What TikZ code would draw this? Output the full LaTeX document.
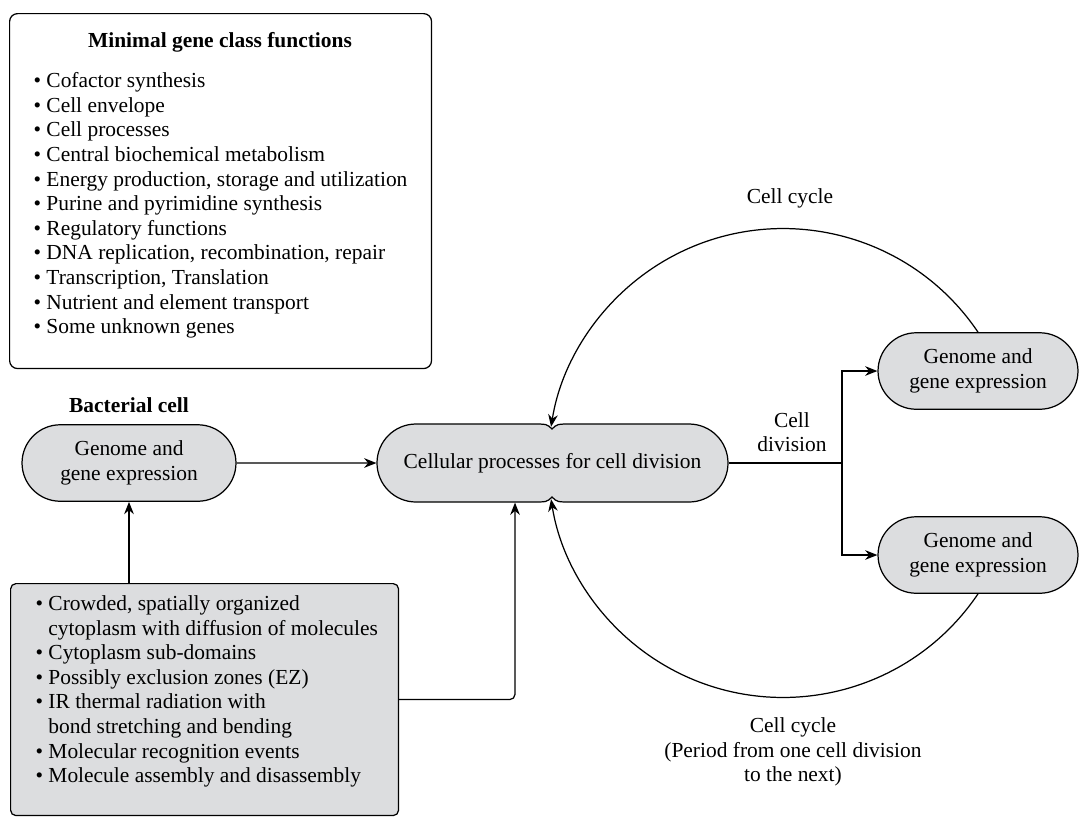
\documentclass[tikz,border=0pt]{standalone}
\usepackage{fontspec}
\setmainfont{Liberation Serif}
\usetikzlibrary{arrows.meta,shapes.misc}
\definecolor{cellgray}{RGB}{220,221,223}

\begin{document}
\begin{tikzpicture}[x=0.02cm, y=-0.02cm, line width=0.7pt,
  font=\fontsize{12.2}{14}\selectfont,
  pill/.style={draw, fill=cellgray, rounded rectangle, align=center,
    minimum height=1.53cm, inner sep=0pt},
  arr/.style={-{Stealth[length=7pt,width=5.5pt]}}]

\useasboundingbox (0,0) rectangle (1079,819);

\coordinate (c1) at (129,463);
\coordinate (c2) at (552.5,463);
\coordinate (c3) at (978,371);
\coordinate (c4) at (978,555);
\coordinate (split) at (842,463);

% gene classes
\node[draw, fill=white, rounded corners=4.5pt, minimum width=8.44cm, minimum height=7.1cm,
  anchor=north west] (genes) at (9,13) {};
\node (genetitle) at (220,42) {\bfseries Minimal gene class functions};
\node[anchor=north west, align=left, inner sep=0pt] (genelist) at (33,72) {%
\textbullet\ Cofactor synthesis\\
\textbullet\ Cell envelope\\
\textbullet\ Cell processes\\
\textbullet\ Central biochemical metabolism\\
\textbullet\ Energy production, storage and utilization\\
\textbullet\ Purine and pyrimidine synthesis\\
\textbullet\ Regulatory functions\\
\textbullet\ DNA replication, recombination, repair\\
\textbullet\ Transcription, Translation\\
\textbullet\ Nutrient and element transport\\
\textbullet\ Some unknown genes};

% cytoplasm box
\node[draw, fill=cellgray, rounded corners=3pt, minimum width=7.76cm, minimum height=4.64cm,
  anchor=north west] (props) at (10,583) {};
\node[anchor=north west, align=left, inner sep=0pt] (proplist) at (35,595) {%
\textbullet\ Crowded, spatially organized\\
\phantom{\textbullet\ }cytoplasm with diffusion of molecules\\
\textbullet\ Cytoplasm sub-domains\\
\textbullet\ Possibly exclusion zones (EZ)\\
\textbullet\ IR thermal radiation with\\
\phantom{\textbullet\ }bond stretching and bending\\
\textbullet\ Molecular recognition events\\
\textbullet\ Molecule assembly and disassembly};

% cells
\node (celltitle) at (129,405) {\bfseries Bacterial cell};
\node[pill, minimum width=4.28cm] (cell) at (c1) {Genome and\\gene expression};
\node[pill, minimum width=4cm] (top) at (c3) {Genome and\\gene expression};
\node[pill, minimum width=4cm] (bot) at (c4) {Genome and\\gene expression};

\draw[fill=cellgray] (552,429) .. controls (557,424) .. (572,424) -- (689,424)
  arc[start angle=-90, end angle=90, radius=39] -- (572,502)
  .. controls (557,502) .. (552,497) .. controls (547,502) .. (532,502) -- (416,502)
  arc[start angle=90, end angle=270, radius=39] -- (532,424)
  .. controls (547,424) .. (552,429) -- cycle;
\node[minimum width=7.02cm, minimum height=1.56cm, inner sep=0pt] (proc) at (c2)
  {Cellular processes for cell division};

% connectors
\draw[arr] (cell) -- (proc);
\draw[arr] (cell.south |- props.north) -- (cell.south);
\draw[arr, rounded corners=3pt] (props.east) -| ([xshift=-0.75cm]proc.south);
\draw (proc.east) -- (split);
\draw[arr] (split) |- (top.west);
\draw[arr] (split) |- (bot.west);
\node[align=center] (divlabel) at (792,432) {Cell\\division};

\draw[arr] (top.north) arc[start angle=-34, end angle=-171, radius=235];
\draw[arr] (bot.south) arc[start angle=34, end angle=171, radius=235];
\node (cyclabel) at (790,198) {Cell cycle};
\node[align=center] (periodlabel) at (793,752)
  {Cell cycle\\(Period from one cell division\\to the next)};
\end{tikzpicture}
\end{document}
